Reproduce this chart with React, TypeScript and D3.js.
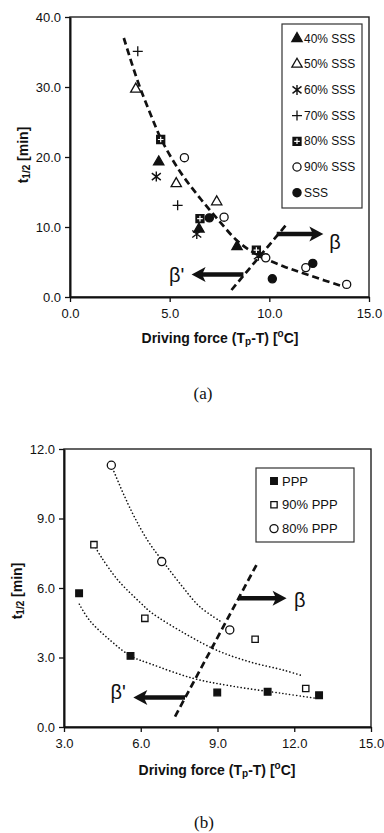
import React, { useRef, useEffect } from 'react';
import * as d3 from 'd3';

const W = 384;
const H = 833;
const SANS = 'Liberation Sans, Arial, Helvetica, sans-serif';
const SERIF = 'Liberation Serif, Times New Roman, serif';

// ---- panel (a) data ----
const xTicksA = [0, 5, 10, 15];
const yTicksA = [0, 10, 20, 30, 40];
const labelsA = ['40% SSS', '50% SSS', '60% SSS', '70% SSS', '80% SSS', '90% SSS', 'SSS'];
const sss40 = [[4.45, 19.3], [6.47, 9.7], [8.38, 7.2]];
const sss50 = [[3.3, 29.7], [5.33, 16.2], [7.36, 13.6]];
const sss60 = [[4.33, 17.2], [6.36, 9.0], [9.45, 5.9]];
const sss70 = [[3.4, 35.1], [5.4, 13.1]];
const sss80 = [[4.55, 22.5], [6.52, 11.2], [9.35, 6.7]];
const sss90 = [[5.74, 19.9], [7.73, 11.4], [9.82, 5.6], [11.83, 4.2], [13.88, 1.8]];
const sss100 = [[6.99, 11.3], [10.15, 2.6], [12.18, 4.8]];
const trendA = [[2.7, 37.0], [3.4, 30.8], [4.0, 26.4], [4.6, 22.4], [5.5, 18.0], [6.5, 14.2],
  [7.5, 10.8], [8.4, 8.0], [9.3, 6.2], [10.7, 4.4], [12.0, 3.1], [13.8, 1.4]];
const boundaryA = [[8.1, 1.0], [10.9, 10.5]];

// ---- panel (b) data ----
const xTicksB = [3, 6, 9, 12, 15];
const yTicksB = [0, 3, 6, 9, 12];
const labelsB = ['PPP', '90% PPP', '80% PPP'];
const ppp100 = [[3.59, 5.77], [5.6, 3.07], [8.99, 1.49], [10.96, 1.52], [12.97, 1.37]];
const ppp90 = [[4.17, 7.87], [6.16, 4.69], [10.47, 3.79], [12.45, 1.66]];
const ppp80 = [[4.85, 11.3], [6.82, 7.14], [9.48, 4.19]];
const trendB100 = [[3.6, 5.3], [4.0, 4.6], [4.8, 3.75], [5.6, 3.07], [6.4, 2.72], [8.05, 2.1],
  [9.6, 1.76], [11.6, 1.44], [12.9, 1.23]];
const trendB90 = [[4.17, 7.87], [4.45, 7.35], [5.1, 6.35], [6.0, 5.35], [6.4, 4.95], [7.7, 4.05],
  [9.0, 3.3], [10.3, 2.8], [11.6, 2.45], [12.35, 2.2]];
const trendB80 = [[4.85, 11.3], [5.6, 9.4], [6.3, 8.0], [6.9, 7.1], [7.6, 6.1], [8.3, 5.2], [9.2, 4.5]];
const boundaryB = [[7.34, 0.45], [10.55, 7.05]];

function marker(g, type, cx, cy) {
  const sym = (s, size, fill) => g.append('path')
    .attr('d', d3.symbol(s, size)())
    .attr('transform', `translate(${cx},${cy})`)
    .attr('fill', fill ? '#111' : '#fff')
    .attr('stroke', '#111')
    .attr('stroke-width', 1.3);
  if (type === 'triFill') sym(d3.symbolTriangle, 46, true);
  else if (type === 'triOpen') sym(d3.symbolTriangle, 46, false);
  else if (type === 'circOpen') sym(d3.symbolCircle, 52, false);
  else if (type === 'circFill') sym(d3.symbolCircle, 52, true);
  else if (type === 'sqFill') sym(d3.symbolSquare, 44, true);
  else if (type === 'sqOpen') sym(d3.symbolSquare, 40, false);
  else if (type === 'sqCross') {
    sym(d3.symbolSquare, 64, true);
    g.append('path')
      .attr('d', `M${cx - 2.8},${cy}H${cx + 2.8}M${cx},${cy - 2.8}V${cy + 2.8}`)
      .attr('stroke', '#fff').attr('stroke-width', 1.2);
  } else if (type === 'plus') {
    g.append('path')
      .attr('d', `M${cx - 5},${cy}H${cx + 5}M${cx},${cy - 5}V${cy + 5}`)
      .attr('stroke', '#111').attr('stroke-width', 1.3);
  } else if (type === 'star') {
    g.append('path')
      .attr('d', `M${cx},${cy - 5}V${cy + 5}M${cx - 4.5},${cy - 3.5}L${cx + 4.5},${cy + 3.5}M${cx - 4.5},${cy + 3.5}L${cx + 4.5},${cy - 3.5}`)
      .attr('stroke', '#111').attr('stroke-width', 1.4);
  }
}

function arrow(g, x1, x2, y, width) {
  const dir = x2 > x1 ? 1 : -1;
  const head = 14;
  g.append('line')
    .attr('x1', x1).attr('x2', x2 - dir * head * 0.7)
    .attr('y1', y).attr('y2', y)
    .attr('stroke', '#111').attr('stroke-width', width);
  g.append('path')
    .attr('d', `M${x2},${y}L${x2 - dir * head},${y - 7.5}L${x2 - dir * head * 0.75},${y}L${x2 - dir * head},${y + 7.5}Z`)
    .attr('fill', '#111');
}

function drawPanel(svg, cfg) {
  const x = d3.scaleLinear().domain(cfg.xDomain).range([cfg.left, cfg.right]);
  const y = d3.scaleLinear().domain(cfg.yDomain).range([cfg.bottom, cfg.top]);
  const g = svg.append('g');

  // frame
  g.append('rect')
    .attr('x', cfg.left).attr('y', cfg.top)
    .attr('width', cfg.right - cfg.left).attr('height', cfg.bottom - cfg.top)
    .attr('fill', 'none').attr('stroke', '#222').attr('stroke-width', 1.4);

  const fmt = d3.format('.1f');
  const yAxis = g.append('g')
    .attr('transform', `translate(${cfg.left},0)`)
    .call(d3.axisLeft(y).tickValues(cfg.yTicks).tickFormat(fmt).tickSize(5).tickSizeOuter(0).tickPadding(4));
  const xAxis = g.append('g')
    .attr('transform', `translate(0,${cfg.bottom})`)
    .call(d3.axisBottom(x).tickValues(cfg.xTicks).tickFormat(fmt).tickSize(5).tickSizeOuter(0).tickPadding(7));
  [xAxis, yAxis].forEach(a => {
    a.selectAll('text').attr('font-family', SANS).attr('font-size', 13).attr('fill', '#111');
    a.selectAll('line').attr('stroke', '#111').attr('stroke-width', 1.3);
    a.select('.domain').attr('stroke', '#111').attr('stroke-width', 2);
  });

  // trend curves
  const line = d3.line().x(d => x(d[0])).y(d => y(d[1])).curve(d3.curveCatmullRom.alpha(0.5));
  cfg.trends.forEach(t => {
    g.append('path').attr('d', line(t)).attr('fill', 'none')
      .attr('stroke', '#111')
      .attr('stroke-width', cfg.trendWidth)
      .attr('stroke-dasharray', cfg.trendDash)
      .attr('stroke-linecap', cfg.trendCap);
  });

  // boundary
  g.append('path').attr('d', d3.line().x(d => x(d[0])).y(d => y(d[1]))(cfg.boundary))
    .attr('fill', 'none').attr('stroke', '#111').attr('stroke-width', 2.7)
    .attr('stroke-dasharray', '7,4');

  // points
  cfg.series.forEach(s => s.data.forEach(d => marker(g, s.type, x(d[0]), y(d[1]))));

  // arrows + labels
  cfg.arrows.forEach(a => {
    arrow(g, x(a.from), x(a.to), y(a.y), 4.5);
    g.append('text').attr('x', x(a.lx)).attr('y', y(a.ly))
      .attr('text-anchor', 'middle').attr('dominant-baseline', 'central')
      .attr('font-family', SANS).attr('font-size', 20).attr('fill', '#111')
      .text(a.label);
  });

  // legend
  const lg = cfg.legend;
  g.append('rect').attr('x', lg.x0).attr('y', lg.y0)
    .attr('width', lg.x1 - lg.x0).attr('height', lg.y1 - lg.y0)
    .attr('fill', '#fff').attr('stroke', '#333').attr('stroke-width', 1.2);
  cfg.series.forEach((s, i) => {
    const ly = lg.first + i * lg.step;
    marker(g, s.type, lg.mx, ly);
    g.append('text').attr('x', lg.tx).attr('y', ly)
      .attr('dominant-baseline', 'central')
      .attr('font-family', SANS).attr('font-size', lg.fontSize).attr('fill', '#111')
      .text(s.label);
  });

  // axis titles
  const yt = g.append('text')
    .attr('transform', `translate(${cfg.yTitleX},${cfg.yTitleY}) rotate(-90)`)
    .attr('text-anchor', 'middle').attr('dominant-baseline', 'central')
    .attr('font-family', SANS).attr('font-size', 14).attr('font-weight', 'bold').attr('fill', '#111');
  yt.append('tspan').text('t');
  yt.append('tspan').attr('font-size', 10).attr('dy', 3).text('1/2');
  yt.append('tspan').attr('dy', -3).text(' [min]');

  const xt = g.append('text')
    .attr('x', cfg.xTitleX).attr('y', cfg.xTitleY)
    .attr('text-anchor', 'middle').attr('dominant-baseline', 'central')
    .attr('font-family', SANS).attr('font-size', 14).attr('font-weight', 'bold').attr('fill', '#111');
  xt.append('tspan').text('Driving force (T');
  xt.append('tspan').attr('font-size', 10).attr('dy', 3).text('p');
  xt.append('tspan').attr('dy', -3).text('-T) [');
  xt.append('tspan').attr('font-size', 10).attr('dy', -5).text('o');
  xt.append('tspan').attr('dy', 5).text('C]');

  g.append('text').attr('x', cfg.captionX).attr('y', cfg.captionY)
    .attr('text-anchor', 'middle').attr('dominant-baseline', 'central')
    .attr('font-family', SERIF).attr('font-size', 17).attr('fill', '#111')
    .text(cfg.caption);
}

export default function App() {
  const svgRef = useRef(null);

  useEffect(() => {
    const svg = d3.select(svgRef.current);
    svg.selectAll('*').remove();

    const typesA = ['triFill', 'triOpen', 'star', 'plus', 'sqCross', 'circOpen', 'circFill'];
    const dataA = [sss40, sss50, sss60, sss70, sss80, sss90, sss100];
    drawPanel(svg, {
      left: 70, right: 369, top: 17, bottom: 297,
      xDomain: [0, 15], yDomain: [0, 40], xTicks: xTicksA, yTicks: yTicksA,
      series: labelsA.map((label, i) => ({ label, type: typesA[i], data: dataA[i] })),
      trends: [trendA], trendWidth: 2.7, trendDash: '7,4', trendCap: 'butt',
      boundary: boundaryA,
      arrows: [
        { from: 10.37, to: 12.71, y: 9.0, label: 'β', lx: 13.3, ly: 7.9 },
        { from: 8.7, to: 6.1, y: 3.2, label: "β'", lx: 5.35, ly: 3.2 },
      ],
      legend: { x0: 282, x1: 362, y0: 24, y1: 208, first: 38.5, step: 25.7, mx: 297, tx: 304, fontSize: 12 },
      yTitleX: 23, yTitleY: 155, xTitleX: 220, xTitleY: 338,
      caption: '(a)', captionX: 203, captionY: 393,
    });

    const typesB = ['sqFill', 'sqOpen', 'circOpen'];
    const dataB = [ppp100, ppp90, ppp80];
    drawPanel(svg, {
      left: 64, right: 371, top: 449, bottom: 727,
      xDomain: [3, 15], yDomain: [0, 12], xTicks: xTicksB, yTicks: yTicksB,
      series: labelsB.map((label, i) => ({ label, type: typesB[i], data: dataB[i] })),
      trends: [trendB100, trendB90, trendB80], trendWidth: 1.6, trendDash: '0.1,3.4', trendCap: 'round',
      boundary: boundaryB,
      arrows: [
        { from: 9.81, to: 11.7, y: 5.56, label: 'β', lx: 12.22, ly: 5.48 },
        { from: 7.73, to: 5.71, y: 1.27, label: "β'", lx: 5.12, ly: 1.5 },
      ],
      legend: { x0: 256, x1: 354, y0: 468, y1: 542, first: 481, step: 23.8, mx: 274, tx: 282, fontSize: 13 },
      yTitleX: 17, yTitleY: 591, xTitleX: 217, xTitleY: 770,
      caption: '(b)', captionX: 204, captionY: 822,
    });
  }, []);

  return (
    <div style={{ position: 'absolute', left: 0, top: 0 }}>
      <svg ref={svgRef} width={W} height={H} style={{ display: 'block', background: '#fff' }}></svg>
    </div>
  );
}
